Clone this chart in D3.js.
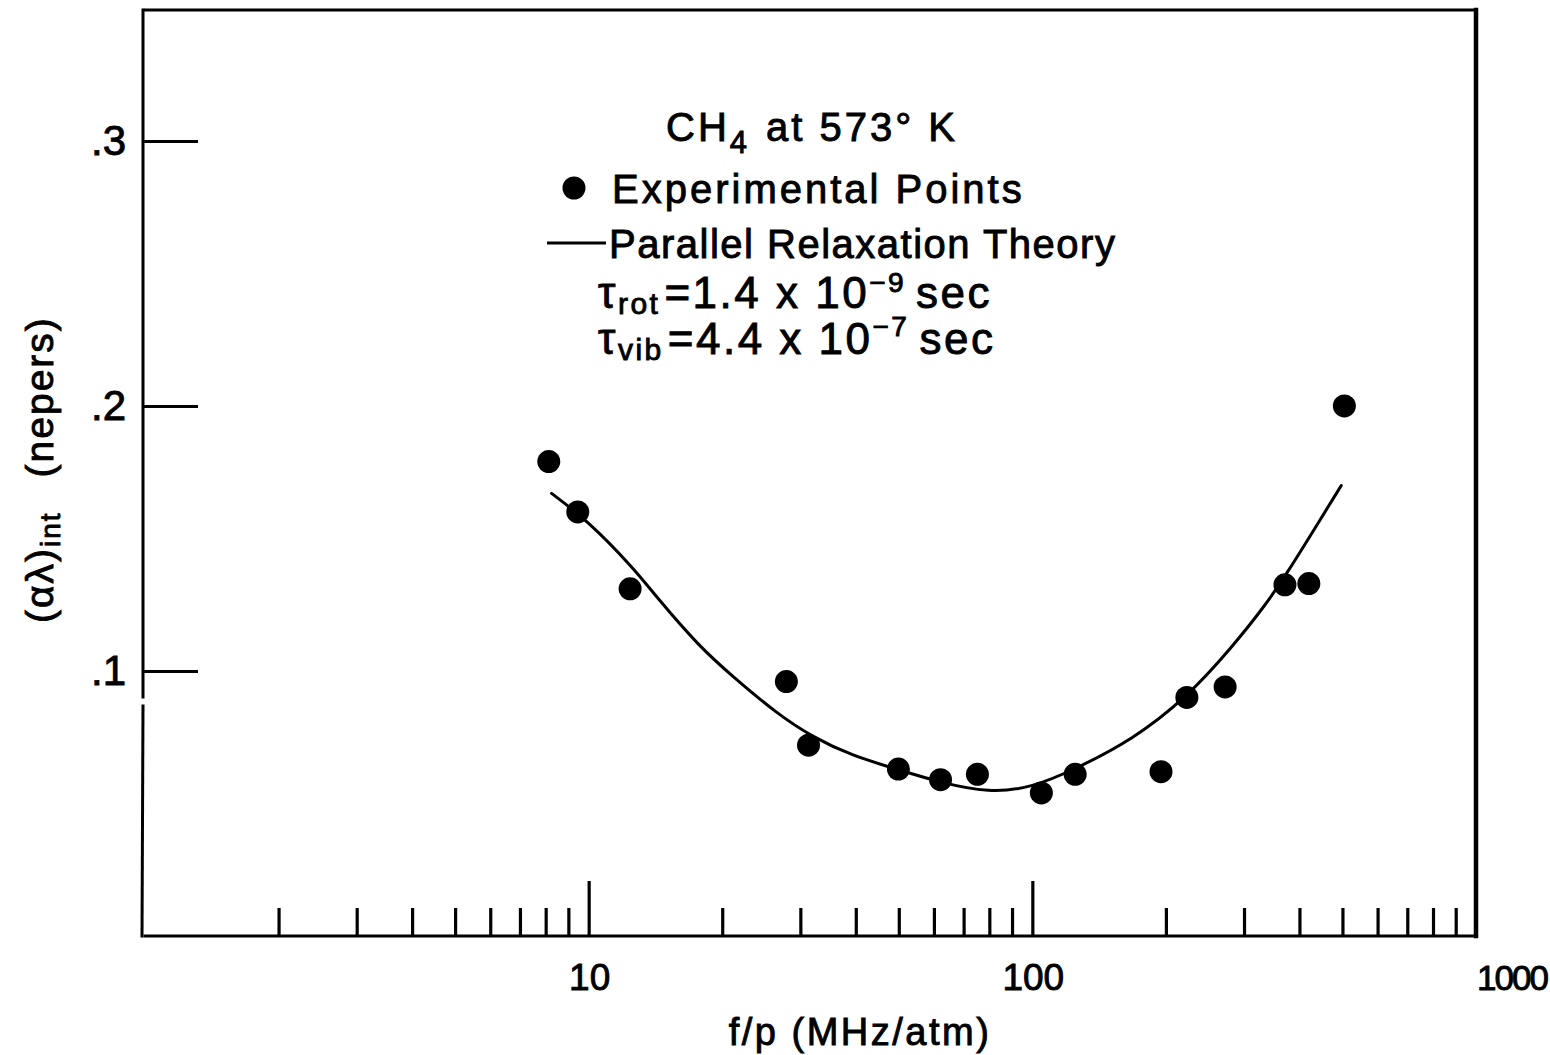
<!DOCTYPE html>
<html>
<head>
<meta charset="utf-8">
<script src="https://cdn.jsdelivr.net/npm/d3@7"></script>
<style>
  body { margin: 0; background: #fff; }
  svg text { font-family: "Liberation Sans", Arial, sans-serif; fill: #000; stroke: #000; stroke-width: 0.9px; }
</style>
</head>
<body>
<svg id="chart" width="1550" height="1055"></svg>
<script>
// Measured integrated absorption per wavelength, CH4 at 573 K
const pointFreq  = [8.13, 9.45, 12.4, 27.9, 31.3, 49.9, 62.1, 75.2, 104.8, 124.9, 195, 223, 272, 371, 420, 505];
const pointAlpha = [0.179, 0.160, 0.131, 0.096, 0.072, 0.063, 0.059, 0.061, 0.054, 0.061, 0.062, 0.090, 0.094, 0.1325, 0.133, 0.200];

// Parallel relaxation theory curve
const curveFreq  = [8.25, 9.9, 12.6, 14.2, 17.8, 21.1, 26.5, 32, 39.3, 49.4, 61.7, 80, 100, 125, 168, 223, 282, 336, 377, 425, 497];
const curveAlpha = [0.167, 0.157, 0.139, 0.128, 0.109, 0.098, 0.084, 0.075, 0.068, 0.063, 0.058, 0.054, 0.056, 0.063, 0.074, 0.090, 0.109, 0.125, 0.1375, 0.1515, 0.170];

// Axis ticks
const xMajorTicks = [10, 100];
const xMinorTicks = [2, 3, 4, 5, 6, 7, 8, 9, 20, 30, 40, 50, 60, 70, 80, 90, 200, 300, 400, 500, 600, 700, 800, 900];
const xTickLabels = ["10", "100", "1000"];
const xLabelValues = [10, 100, 1000];
const yTickValues = [0.1, 0.2, 0.3];
const yTickLabels = [".1", ".2", ".3"];

const svg = d3.select("#chart");
const plotL = 145, plotR = 1476, plotT = 10, plotB = 936;

const x = d3.scaleLog().domain([1, 1000]).range([plotL, plotR]);
const y = d3.scaleLinear().domain([0, 0.3494]).range([plotB, plotT]);

// Frame
const frame = svg.append("g").attr("stroke", "#000").attr("stroke-linecap", "square");
frame.append("line").attr("x1", plotL).attr("x2", plotR).attr("y1", plotT).attr("y2", plotT).attr("stroke-width", 3);
frame.append("line").attr("x1", plotL).attr("x2", plotR).attr("y1", plotB).attr("y2", plotB).attr("stroke-width", 3);
frame.append("line").attr("x1", plotR).attr("x2", plotR).attr("y1", plotT).attr("y2", plotB).attr("stroke-width", 4.5);
// left spine has a small break just below the .1 tick
frame.append("line").attr("x1", plotL - 2).attr("x2", plotL - 2).attr("y1", plotT).attr("y2", 697).attr("stroke-width", 3);
frame.append("line").attr("x1", plotL - 2).attr("x2", plotL - 3).attr("y1", 706).attr("y2", plotB).attr("stroke-width", 3);

// Bottom axis ticks (pointing inward)
const minorAxis = d3.axisBottom(x).tickValues(xMinorTicks).tickSize(-28).tickFormat("");
const majorAxis = d3.axisBottom(x).tickValues(xMajorTicks).tickSize(-55).tickFormat("");
[minorAxis, majorAxis].forEach(ax => {
  const g = svg.append("g").attr("transform", `translate(0,${plotB})`).call(ax);
  g.select(".domain").remove();
  g.selectAll(".tick line").attr("stroke", "#000").attr("stroke-width", 3.2);
});

// Left axis ticks (pointing inward)
const yAxis = d3.axisLeft(y).tickValues(yTickValues).tickSize(-55).tickFormat("");
const gy = svg.append("g").attr("transform", `translate(${plotL - 2},0)`).call(yAxis);
gy.select(".domain").remove();
gy.selectAll(".tick line").attr("stroke", "#000").attr("stroke-width", 3);

// Tick labels
svg.append("g").selectAll("text").data(xLabelValues).join("text")
  .attr("x", d => x(d) + 1)
  .attr("y", 990)
  .attr("text-anchor", (d, i) => i === 2 ? "start" : "middle")
  .attr("font-size", (d, i) => i === 2 ? 35 : 37)
  .attr("letter-spacing", (d, i) => i === 2 ? -2 : 0)
  .text((d, i) => xTickLabels[i]);

svg.append("g").selectAll("text").data(yTickValues).join("text")
  .attr("x", 126)
  .attr("y", d => y(d) + 14)
  .attr("text-anchor", "end")
  .attr("font-size", 42)
  .text((d, i) => yTickLabels[i]);

// Axis titles
svg.append("text")
  .attr("x", 860).attr("y", 1045)
  .attr("text-anchor", "middle")
  .attr("font-size", 38)
  .attr("letter-spacing", 2.5)
  .text("f/p (MHz/atm)");

const yTitle = svg.append("text")
  .attr("transform", "translate(53,623) rotate(-90)")
  .attr("font-size", 39)
  .attr("letter-spacing", 2);
yTitle.append("tspan").text("(\u03B1\u03BB)");
yTitle.append("tspan").attr("font-size", 28).attr("dy", 7).text("int");
yTitle.append("tspan").attr("dy", -7).attr("dx", 34).text("(nepers)");

// Theory curve
const line = d3.line()
  .x((d, i) => x(curveFreq[i]))
  .y((d, i) => y(curveAlpha[i]))
  .curve(d3.curveBasis);
svg.append("path")
  .attr("d", line(curveFreq))
  .attr("fill", "none")
  .attr("stroke", "#000")
  .attr("stroke-width", 3)
  .attr("stroke-linecap", "round");

// Experimental points
svg.append("g").selectAll("circle").data(pointFreq).join("circle")
  .attr("cx", d => x(d))
  .attr("cy", (d, i) => y(pointAlpha[i]))
  .attr("r", 11.5)
  .attr("fill", "#000");

// Legend block
const legend = svg.append("g").attr("font-size", 40).attr("letter-spacing", 3);

const t1 = legend.append("text").attr("x", 666).attr("y", 141);
t1.append("tspan").text("CH");
t1.append("tspan").attr("font-size", 31).attr("dy", 12).text("4");
t1.append("tspan").attr("dy", -12).attr("dx", 16).text("at 573\u00B0 K");

legend.append("circle").attr("cx", 574).attr("cy", 188).attr("r", 11.5).attr("fill", "#000");
legend.append("text").attr("x", 612).attr("y", 203).text("Experimental Points");

legend.append("line").attr("x1", 547).attr("x2", 606).attr("y1", 243).attr("y2", 243)
  .attr("stroke", "#000").attr("stroke-width", 3);
legend.append("text").attr("x", 609).attr("y", 258).attr("letter-spacing", 1.5).text("Parallel Relaxation Theory");

const relax = legend.append("g").attr("font-size", 44).attr("letter-spacing", 2.5);

const t3 = relax.append("text").attr("x", 598).attr("y", 308);
t3.append("tspan").text("\u03C4");
t3.append("tspan").attr("font-size", 30).attr("dy", 6).text("rot");
t3.append("tspan").attr("dy", -6).attr("dx", 4).text("=1.4 x 10");
t3.append("tspan").attr("font-size", 28).attr("dy", -16).text("\u22129");
t3.append("tspan").attr("dy", 16).attr("dx", 10).text("sec");

const t4 = relax.append("text").attr("x", 598).attr("y", 354);
t4.append("tspan").text("\u03C4");
t4.append("tspan").attr("font-size", 30).attr("dy", 6).text("vib");
t4.append("tspan").attr("dy", -6).attr("dx", 4).text("=4.4 x 10");
t4.append("tspan").attr("font-size", 28).attr("dy", -18).text("\u22127");
t4.append("tspan").attr("dy", 18).attr("dx", 10).text("sec");
</script>
</body>
</html>
